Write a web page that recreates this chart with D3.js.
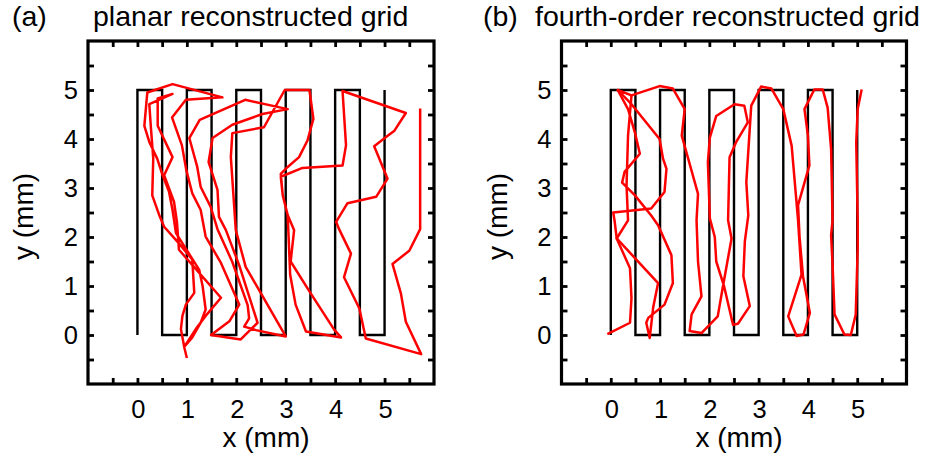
<!DOCTYPE html>
<html><head><meta charset="utf-8">
<script src="https://cdn.jsdelivr.net/npm/d3@7"></script>
<style>body{margin:0;background:#fff}svg{display:block}text{font-family:"Liberation Sans",Arial,Helvetica,sans-serif;fill:#000}</style>
</head><body>
<script>
const tickValues = [-0.5,0,0.5,1,1.5,2,2.5,3,3.5,4,4.5,5,5.5];
const tickLabels = [0,1,2,3,4,5];
const gridX = [0,0,0.5,0.5,1,1,1.5,1.5,2,2,2.5,2.5,3,3,3.5,3.5,4,4,4.5,4.5,5,5];
const gridY = [0,5,5,0,0,5,5,0,0,5,5,0,0,5,5,0,0,5,5,0,0,5];
const redA = [[1.0,-0.47],[0.95,-0.26],[0.88,0.12],[0.91,0.39],[0.98,0.62],[1.15,0.86],[1.11,1.54],[0.84,1.87],[0.54,2.21],[0.44,2.45],[0.3,2.85],[0.32,3.6],[0.27,4.27],[0.24,4.71],[0.71,4.92],
[0.41,4.83],[0.41,4.27],[0.71,3.63],[0.54,3.26],[0.74,2.72],[0.8,2.3],[0.84,1.74],[1.69,0.76],[1.38,0.39],[1.18,0.12],[0.95,-0.24],
[1.11,-0.05],[1.28,0.25],[1.38,0.52],[1.32,0.99],[1.25,1.33],[0.78,2.08],[0.71,2.55],[0.64,2.92],[0.51,3.26],[0.4,3.6],[0.24,3.94],[0.14,4.27],[0.2,4.95],
[0.71,5.12],[1.72,4.85],[0.98,4.8],[0.7,4.44],[0.9,3.87],[0.99,3.36],[1.11,2.89],[1.28,2.55],[1.38,2.01],[1.69,1.47],[2.06,0.62],[1.86,0.28],[1.49,0.0],
[2.09,-0.09],[2.43,0.25],[2.06,1.42],[1.79,2.14],[1.65,2.41],[1.62,2.96],[1.44,3.53],[1.52,4.02],[1.92,4.29],[2.53,4.51],[3.04,4.61],
[2.18,4.8],[1.26,4.39],[1.05,4.02],[1.21,3.43],[1.28,3.02],[1.48,2.62],[1.62,2.16],[1.92,1.49],[2.23,0.61],[2.26,0.34],[2.16,0.17],[2.4,0.1],[3.0,-0.03],
[2.19,1.39],[1.99,2.14],[1.89,3.63],[1.92,4.12],[2.56,4.24],[2.98,5.0],[3.48,5.0],[3.56,4.41],[3.44,3.97],[3.27,3.63],[3.04,3.43],[2.9,3.29],[2.94,2.85],[3.04,2.45],
[3.09,1.23],[3.2,0.62],[3.41,0.07],[4.12,-0.05],[3.98,0.11],[3.48,0.89],[3.1,1.5],[3.17,2.14],[3.04,2.45],[2.94,2.85],[2.9,3.23],[3.34,3.41],[4.15,3.46],[4.22,3.87],[4.15,4.98],
[5.43,4.53],[5.2,4.17],[5.03,4.04],[4.79,3.85],[5.06,3.19],[4.83,2.82],[4.25,2.69],[4.02,2.31],[4.08,2.16],[4.32,1.66],[4.18,1.18],[4.49,0.54],[4.62,-0.07],
[5.74,-0.39],[5.43,0.27],[5.33,0.85],[5.16,1.45],[5.5,1.72],[5.72,2.16],[5.72,4.62]];
const redB1 = [[-0.07,0.02],[0.39,0.25],[0.42,0.75],[0.39,1.36],[0.12,1.97],[0.08,2.31],[0.05,2.5],[0.82,2.58],[1.09,2.92],[1.13,3.39],[1.06,3.6],[0.99,4.0],[0.42,4.71],[0.14,5.0],[0.42,4.89],[0.99,5.08],[1.26,5.03],[1.5,4.61],[1.44,4.07],[1.77,2.88],[1.74,2.34],[1.77,1.5],[1.84,0.79],[1.64,0.42],[1.6,0.08],[1.84,0.04],[2.17,0.38],[2.27,0.96],[2.45,1.97],[2.38,2.34],[2.41,3.63],[2.54,3.93],[2.78,4.34],[2.71,4.68],[2.51,4.71],[2.14,4.47],[2.01,4.03],[1.97,3.53],[2.01,2.38],[2.11,2.0],[2.14,1.5],[2.3,0.99],[2.48,0.21],[2.58,0.23],[2.82,0.59],[2.69,1.2],[2.72,1.91],[2.79,2.44],[2.75,3.12],[2.85,4.68],[3.05,5.07],[3.26,5.03],[3.5,4.61],[3.67,3.86],[3.8,2.34],[3.87,1.23],[3.6,0.38],[3.77,-0.02],[3.91,0.01],[4.04,0.45],[3.9,1.2],[3.83,2.0],[3.8,2.65],[4.03,3.46],[4.0,4.07],[3.93,4.61],[4.13,5.01],[4.3,5.01],[4.4,4.64],[4.47,3.8],[4.5,2.34],[4.47,2.04],[4.5,1.43],[4.54,0.42],[4.74,0.01],[4.87,0.0],[4.97,0.42],[5.01,1.77],[5.01,2.34],[4.98,3.93],[5.01,4.61],[5.09,5.01]];
const redB2 = [[0.14,5.0],[0.35,4.61],[0.49,4.13],[0.59,3.7],[0.28,3.33],[0.23,3.11],[0.49,2.85],[0.82,2.44],[0.96,2.24],[1.23,1.63],[1.26,1.06],[1.09,0.62],[0.76,0.35],[0.72,0.25],[0.79,-0.06],[0.86,0.56],[0.96,1.06],[0.12,1.97],[0.35,2.34],[0.32,3.05],[0.35,4.07],[0.42,4.89]];
const panels = [
  {tag:"(a)", title:"planar reconstructed grid", left:88, right:434, tagX:12, titleX:93, red:[redA]},
  {tag:"(b)", title:"fourth-order reconstructed grid", left:561.5, right:906.5, tagX:483, titleX:535, red:[redB1,redB2]}
];
const W=925,H=459, plotTop=41, plotBottom=384;
const svg = d3.select("body").append("svg").attr("width",W).attr("height",H);
panels.forEach(p=>{
  const x = d3.scaleLinear().domain([-1,6]).range([p.left,p.right]);
  const y = d3.scaleLinear().domain([-1,6]).range([plotBottom,plotTop]);
  const g = svg.append("g");
  const line = d3.line().x(d=>x(d[0])).y(d=>y(d[1]));
  g.append("path").datum(gridX.map((v,i)=>[v,gridY[i]])).attr("d",line)
    .attr("fill","none").attr("stroke","#000").attr("stroke-width",2.4).attr("stroke-linejoin","miter");
  p.red.forEach(r=>{
    g.append("path").datum(r).attr("d",line).attr("fill","none")
      .attr("stroke","#ff0000").attr("stroke-width",2.5).attr("stroke-linejoin","round");
  });
  const tl = 6;
  const axB = d3.axisBottom(x).tickValues(tickValues).tickSizeInner(-tl).tickSizeOuter(0).tickFormat("");
  const axT = d3.axisTop(x).tickValues(tickValues).tickSizeInner(-tl).tickSizeOuter(0).tickFormat("");
  const axL = d3.axisLeft(y).tickValues(tickValues).tickSizeInner(-tl).tickSizeOuter(0).tickFormat("");
  const axR = d3.axisRight(y).tickValues(tickValues).tickSizeInner(-tl).tickSizeOuter(0).tickFormat("");
  [[axB,`translate(0,${plotBottom})`],[axT,`translate(0,${plotTop})`],[axL,`translate(${p.left},0)`],[axR,`translate(${p.right},0)`]].forEach(([a,t])=>{
    const ag = g.append("g").attr("transform",t).call(a);
    ag.select(".domain").remove();
    ag.selectAll(".tick line").attr("stroke","#000").attr("stroke-width",2.8);
  });
  g.append("rect").attr("x",p.left).attr("y",plotTop).attr("width",p.right-p.left).attr("height",plotBottom-plotTop)
    .attr("fill","none").attr("stroke","#000").attr("stroke-width",3.2);
  g.selectAll(".xl").data(tickLabels).enter().append("text")
    .attr("x",d=>x(d)+1).attr("y",417.5).attr("text-anchor","middle").attr("font-size",25.5).text(d=>d);
  g.selectAll(".yl").data(tickLabels).enter().append("text")
    .attr("x",p.left-10).attr("y",d=>y(d)+9).attr("text-anchor","end").attr("font-size",25.5).text(d=>d);
  g.append("text").attr("x",(p.left+p.right)/2+5).attr("y",447).attr("text-anchor","middle").attr("font-size",28).text("x (mm)");
  g.append("text").attr("transform",`translate(${p.left-55},${(plotTop+plotBottom)/2+4}) rotate(-90)`).attr("text-anchor","middle").attr("font-size",28).text("y (mm)");
  g.append("text").attr("x",p.tagX).attr("y",26).attr("font-size",28.5).text(p.tag);
  g.append("text").attr("x",p.titleX).attr("y",26).attr("font-size",28.5).text(p.title);
});
</script>
</body></html>
